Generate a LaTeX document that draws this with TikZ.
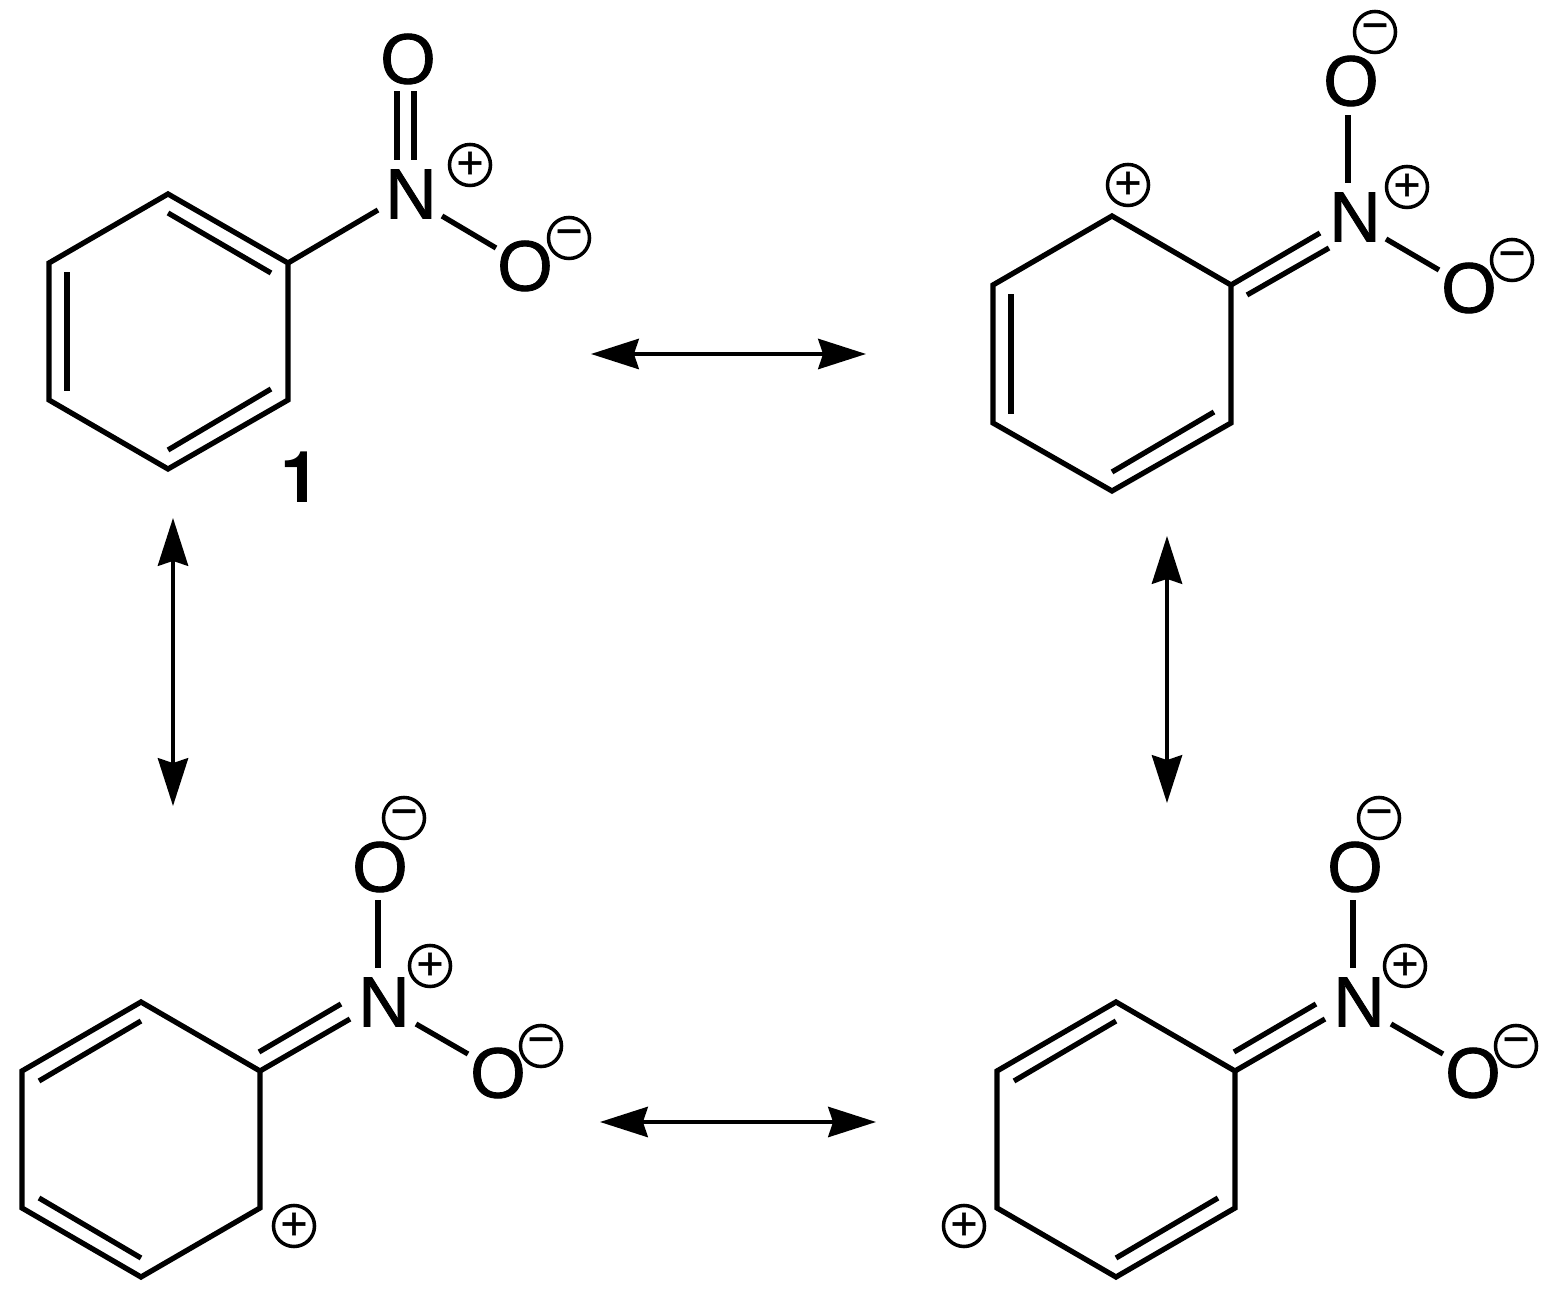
\documentclass[tikz,border=0pt]{standalone}
\usepackage{fontspec}
\setmainfont{Liberation Sans}
\newfontfamily\atomfont[FakeBold=1.2]{Liberation Sans}
\newfontfamily\labelfont{TeX Gyre Heros}
\usetikzlibrary{arrows.meta}
\tikzset{
  atom/.style={circle, inner sep=0pt, minimum size=0.7cm, font=\fontsize{20.3}{22}\selectfont\atomfont},
  charge/.style={circle, draw, line width=1pt, inner sep=0pt, minimum size=0.41cm, font=\fontsize{13}{13}\selectfont\atomfont},
  bond/.style={line width=1.5pt, line cap=butt, line join=miter},
  react/.style={line width=1.1pt, {Stealth[length=13.6pt, width=8.6pt, inset=1.4pt]}-{Stealth[length=13.6pt, width=8.6pt, inset=1.4pt]}}
}
\begin{document}
\begin{tikzpicture}[x=0.01cm, y=-0.01cm]
\useasboundingbox (0, 0) rectangle (1551, 1292);
% top left
\coordinate (a1) at (168, 194);
\coordinate (a2) at (288, 263);
\coordinate (a3) at (288, 400);
\coordinate (a4) at (168, 469);
\coordinate (a5) at (49, 400);
\coordinate (a6) at (49, 263);
\node[atom] (aN) at (411, 194) {N};
\node[atom] (aO) at (408, 59) {O};
\node[atom] (aOm) at (525, 266) {O};
\node[charge] (aP) at (470, 165) {+};
\node[charge] (aM) at (569, 238) {−};
\node[font=\fontsize{20.3}{22}\selectfont\labelfont\bfseries] (aL) at (300, 477) {1};
\draw[bond] (a1) -- (a2) -- (a3) -- (a4) -- (a5) -- (a6) -- cycle;
\draw[bond] ([shift={(0, 19)}]a1) -- ([shift={(-17, 10)}]a2);
\draw[bond] ([shift={(-17, -11)}]a3) -- ([shift={(0, -19)}]a4);
\draw[bond] ([shift={(18, -9)}]a5) -- ([shift={(18, 9)}]a6);
\draw[bond] (a2) -- ([shift={(-33, 16)}]aN.center);
\draw[bond] ([shift={(31, 22)}]aN.center) -- ([shift={(-29, -18)}]aOm.center);
\draw[bond] ([shift={(-14, -34)}]aN.center) -- ([shift={(-11, 32)}]aO.center);
\draw[bond] ([shift={(3, -34)}]aN.center) -- ([shift={(6, 32)}]aO.center);
% top right
\coordinate (b1) at (1112, 216);
\coordinate (b2) at (1231, 285);
\coordinate (b3) at (1231, 423);
\coordinate (b4) at (1112, 491);
\coordinate (b5) at (993, 423);
\coordinate (b6) at (993, 285);
\node[atom] (bN) at (1355, 217) {N};
\node[atom] (bO) at (1351, 81) {O};
\node[atom] (bOm) at (1469, 288) {O};
\node[charge] (bQ) at (1128, 185) {+};
\node[charge] (bP) at (1407, 187) {+};
\node[charge] (bMa) at (1375, 32) {−};
\node[charge] (bMb) at (1512, 260) {−};
\draw[bond] (b1) -- (b2) -- (b3) -- (b4) -- (b5) -- (b6) -- cycle;
\draw[bond] ([shift={(-17, -11)}]b3) -- ([shift={(0, -19)}]b4);
\draw[bond] ([shift={(18, -9)}]b5) -- ([shift={(18, 9)}]b6);
\draw[bond] (b2) -- ([shift={(-35, 16)}]bN.center);
\draw[bond] ([shift={(16, 10)}]b2) -- ([shift={(-26, 31)}]bN.center);
\draw[bond] ([shift={(-7, -34)}]bN.center) -- ([shift={(-3, 34)}]bO.center);
\draw[bond] ([shift={(31, 22)}]bN.center) -- ([shift={(-30, -18)}]bOm.center);
% bottom left
\coordinate (c1) at (141, 1002);
\coordinate (c2) at (260, 1071);
\coordinate (c3) at (260, 1208);
\coordinate (c4) at (141, 1277);
\coordinate (c5) at (22, 1208);
\coordinate (c6) at (22, 1071);
\node[atom] (cN) at (384, 1002) {N};
\node[atom] (cO) at (380, 867) {O};
\node[atom] (cOm) at (498, 1073) {O};
\node[charge] (cQ) at (294, 1226) {+};
\node[charge] (cP) at (430, 966) {+};
\node[charge] (cMa) at (404, 818) {−};
\node[charge] (cMb) at (541, 1046) {−};
\draw[bond] (c1) -- (c2) -- (c3) -- (c4) -- (c5) -- (c6) -- cycle;
\draw[bond] ([shift={(17, 10)}]c6) -- ([shift={(0, 19)}]c1);
\draw[bond] ([shift={(17, -10)}]c5) -- ([shift={(0, -19)}]c4);
\draw[bond] (c2) -- ([shift={(-34, 17)}]cN.center);
\draw[bond] ([shift={(-1, -19)}]c2) -- ([shift={(-43, 2)}]cN.center);
\draw[bond] ([shift={(-6, -34)}]cN.center) -- ([shift={(-2, 33)}]cO.center);
\draw[bond] ([shift={(32, 22)}]cN.center) -- ([shift={(-30, -19)}]cOm.center);
% bottom right
\coordinate (d1) at (1116, 1002);
\coordinate (d2) at (1235, 1071);
\coordinate (d3) at (1235, 1208);
\coordinate (d4) at (1116, 1277);
\coordinate (d5) at (997, 1208);
\coordinate (d6) at (997, 1071);
\node[atom] (dN) at (1359, 1002) {N};
\node[atom] (dO) at (1355, 867) {O};
\node[atom] (dOm) at (1473, 1073) {O};
\node[charge] (dQ) at (964, 1226) {+};
\node[charge] (dP) at (1405, 966) {+};
\node[charge] (dMa) at (1379, 818) {−};
\node[charge] (dMb) at (1516, 1046) {−};
\draw[bond] (d1) -- (d2) -- (d3) -- (d4) -- (d5) -- (d6) -- cycle;
\draw[bond] ([shift={(17, 10)}]d6) -- ([shift={(0, 19)}]d1);
\draw[bond] ([shift={(-17, -10)}]d3) -- ([shift={(0, -19)}]d4);
\draw[bond] (d2) -- ([shift={(-34, 17)}]dN.center);
\draw[bond] ([shift={(-1, -19)}]d2) -- ([shift={(-43, 2)}]dN.center);
\draw[bond] ([shift={(-6, -34)}]dN.center) -- ([shift={(-2, 33)}]dO.center);
\draw[bond] ([shift={(32, 22)}]dN.center) -- ([shift={(-30, -19)}]dOm.center);
% arrows
\coordinate (ab1) at (591, 354);
\coordinate (ab2) at (866, 354);
\coordinate (ac1) at (173, 518);
\coordinate (ac2) at (173, 806);
\coordinate (bd1) at (1167, 536);
\coordinate (bd2) at (1167, 803);
\coordinate (cd1) at (600, 1122);
\coordinate (cd2) at (876, 1122);
\draw[react] (ab1) -- (ab2);
\draw[react] (ac1) -- (ac2);
\draw[react] (bd1) -- (bd2);
\draw[react] (cd1) -- (cd2);
\end{tikzpicture}
\end{document}
